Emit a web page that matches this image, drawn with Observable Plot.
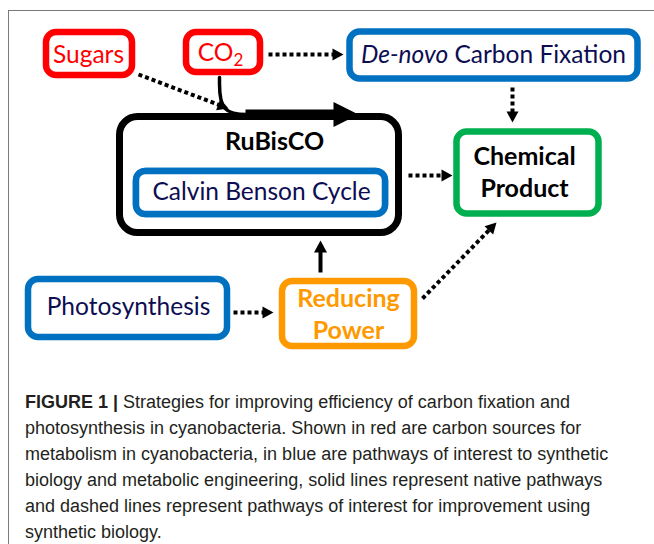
<!DOCTYPE html>
<html><head><meta charset="utf-8">
<script src="https://cdn.jsdelivr.net/npm/d3@7"></script>
<script src="https://cdn.jsdelivr.net/npm/@observablehq/plot@0.6"></script>
<style>
html,body{margin:0;padding:0;background:#fff}
body{width:654px;height:544px;overflow:hidden;position:relative}
#frame{position:absolute;left:8px;top:10px;width:700px;height:600px;border-top:1.5px solid #7a7a7a;border-left:1.5px solid #7a7a7a}
#chart{position:absolute;left:0;top:0}
#caption{position:absolute;left:25px;top:389px;font-family:"Liberation Sans",Arial,sans-serif;font-size:18px;line-height:26px;color:#231f20;white-space:nowrap}
#caption b{font-weight:bold}
</style></head><body>
<div id="frame"></div><div id="chart"></div><div id="caption"></div>
<script>
// ---- nodes of the diagram ----
const nodeIds    = ["Sugars","CO2","DeNovo","RuBisCO","Calvin","Chemical","Photosynthesis","Reducing"];
const nodeLabels = ["Sugars","CO2","De-novo Carbon Fixation","RuBisCO","Calvin Benson Cycle","Chemical\nProduct","Photosynthesis","Reducing\nPower"];
const nodeKinds  = ["carbon source","carbon source","pathway","enzyme","pathway","product","pathway","energy"];
const boxLeft    = [46, 186, 349.5, 119.5, 136, 456.5, 28, 282];
const boxTop     = [32, 32, 31.5, 116.5, 171, 131.5, 279, 281];
const boxRight   = [132, 260, 637.5, 398.5, 385, 598.5, 227, 414];
const boxBottom  = [75, 72, 78.5, 232.5, 214, 213.5, 337, 346];
const labelX     = [88, 220, 493, 274, 261, 524, 128, 348];
const labelY     = [55, 53, 55, 139, 192, 170, 307, 312];

// ---- edges (arrows) ----
const edgeFrom = ["Sugars","CO2","DeNovo","RuBisCO","Photosynthesis","Reducing","Reducing"];
const edgeTo   = ["RuBisCO","DeNovo","Chemical","Chemical","Reducing","RuBisCO","Chemical"];
const edgeKind = ["improvement","improvement","improvement","improvement","improvement","native","improvement"];
const edgeX1 = [138, 268, 512, 408, 233, 320, 422];
const edgeY1 = [74, 54, 87, 175, 312, 272, 298];
const edgeX2 = [228, 343, 512, 452, 273, 320, 496];
const edgeY2 = [108, 54, 122, 175, 312, 240, 222];

// native CO2 fixation route into RuBisCO (curve + main flow arrow)
const co2PathX = [219, 219, 252];
const co2PathY = [77, 114, 114];
const flowX = [245, 358];
const flowY = [114, 114];

// ---- caption ----
const captionLabel = "FIGURE 1 |";
const captionLines = [
  "Strategies for improving efficiency of carbon fixation and",
  "photosynthesis in cyanobacteria. Shown in red are carbon sources for",
  "metabolism in cyanobacteria, in blue are pathways of interest to synthetic",
  "biology and metabolic engineering, solid lines represent native pathways",
  "and dashed lines represent pathways of interest for improvement using",
  "synthetic biology."
];

// ---- styles ----
const boxColor  = {"carbon source":"#ff0000","pathway":"#0070c0","enzyme":"#000000","product":"#00b050","energy":"#ff9900"};
const textColor = {"carbon source":"#ff0000","pathway":"#0d0d52","enzyme":"#000000","product":"#000000","energy":"#ff9900"};

const nodes = nodeIds.map((id,i)=>({id,label:nodeLabels[i],kind:nodeKinds[i],x1:boxLeft[i],y1:boxTop[i],x2:boxRight[i],y2:boxBottom[i],lx:labelX[i],ly:labelY[i]}));
const edges = edgeFrom.map((f,i)=>({from:f,to:edgeTo[i],kind:edgeKind[i],x1:edgeX1[i],y1:edgeY1[i],x2:edgeX2[i],y2:edgeY2[i]}));
const flow = {from:"CO2",to:"RuBisCO",kind:"major",x1:flowX[0],y1:flowY[0],x2:flowX[1],y2:flowY[1]};

function head(e){
  const L = e.kind==="major"?25:(e.kind==="native"?12:11);
  const w = e.kind==="major"?12.5:(e.kind==="native"?6.5:6);
  const dx=e.x2-e.x1, dy=e.y2-e.y1, n=Math.hypot(dx,dy), ux=dx/n, uy=dy/n;
  const bx=e.x2-L*ux, by=e.y2-L*uy;
  return {pts:[{x:e.x2,y:e.y2},{x:bx-w*uy,y:by+w*ux},{x:bx+w*uy,y:by-w*ux}], base:{x:bx+0.5*ux,y:by+0.5*uy}};
}
const allArrows = [...edges, flow];
const tris = allArrows.flatMap((e,i)=>head(e).pts.map(p=>({...p,z:i})));
const shafts = allArrows.map(e=>{const h=head(e); return {...e, x2:h.base.x, y2:h.base.y};});
const co2Path = co2PathX.map((x,i)=>({x,y:co2PathY[i]}));

const W=654, H=380;
const svg = Plot.plot({
  width:W, height:H, margin:0,
  x:{domain:[0,W], range:[0,W], axis:null},
  y:{domain:[0,H], range:[0,H], axis:null},
  style:{background:"transparent", overflow:"visible"},
  marks:[
    Plot.rect(nodes.filter(d=>d.kind!=="enzyme"),{x1:"x1",x2:"x2",y1:"y1",y2:"y2",rx:10,fill:"white",stroke:d=>boxColor[d.kind],strokeWidth:6.5}),
    Plot.rect(nodes.filter(d=>d.kind==="enzyme"),{x1:"x1",x2:"x2",y1:"y1",y2:"y2",rx:18,fill:"none",stroke:"#000",strokeWidth:7}),
    Plot.rect(nodes.filter(d=>d.id==="Calvin"),{x1:"x1",x2:"x2",y1:"y1",y2:"y2",rx:9,fill:"white",stroke:"#0070c0",strokeWidth:6.5}),
    Plot.line(co2Path,{x:"x",y:"y",curve:"basis",stroke:"#000",strokeWidth:3.5,fill:"none"}),
    Plot.link(shafts.filter(d=>d.kind==="improvement"),{x1:"x1",y1:"y1",x2:"x2",y2:"y2",stroke:"#000",strokeWidth:4,strokeDasharray:"4 3"}),
    Plot.link(shafts.filter(d=>d.kind==="native"),{x1:"x1",y1:"y1",x2:"x2",y2:"y2",stroke:"#000",strokeWidth:4}),
    Plot.link(shafts.filter(d=>d.kind==="major"),{x1:"x1",y1:"y1",x2:"x2",y2:"y2",stroke:"#000",strokeWidth:10}),
    Plot.line(tris,{x:"x",y:"y",z:"z",fill:"#000",stroke:"none"}),
    Plot.text(nodes.filter(d=>["carbon source","pathway"].includes(d.kind)),{x:"lx",y:"ly",text:"label",fill:d=>textColor[d.kind],fontFamily:"Lato",fontSize:24.5}),
    Plot.text(nodes.filter(d=>["enzyme","product","energy"].includes(d.kind)),{x:"lx",y:"ly",text:"label",fill:d=>textColor[d.kind],fontFamily:"Lato",fontWeight:"bold",fontSize:25,lineHeight:1.28})
  ]
});
// rich text: subscript in CO2, italic De-novo
d3.select(svg).selectAll("text").each(function(){
  const t = d3.select(this);
  if (this.textContent === "CO2") {
    t.text("CO");
    t.append("tspan").attr("dy","0.3em").attr("font-size","17px").text("2");
  } else if (this.textContent === "De-novo Carbon Fixation") {
    t.text(null);
    t.append("tspan").attr("font-style","italic").text("De-novo");
    t.append("tspan").text(" Carbon Fixation");
  }
});
document.getElementById("chart").appendChild(svg);

const cap = d3.select("#caption");
captionLines.forEach((line,i)=>{
  const div = cap.append("div");
  if (i===0) { div.append("b").text(captionLabel); div.append("span").text(" " + line); }
  else div.text(line);
});
</script>
</body></html>
